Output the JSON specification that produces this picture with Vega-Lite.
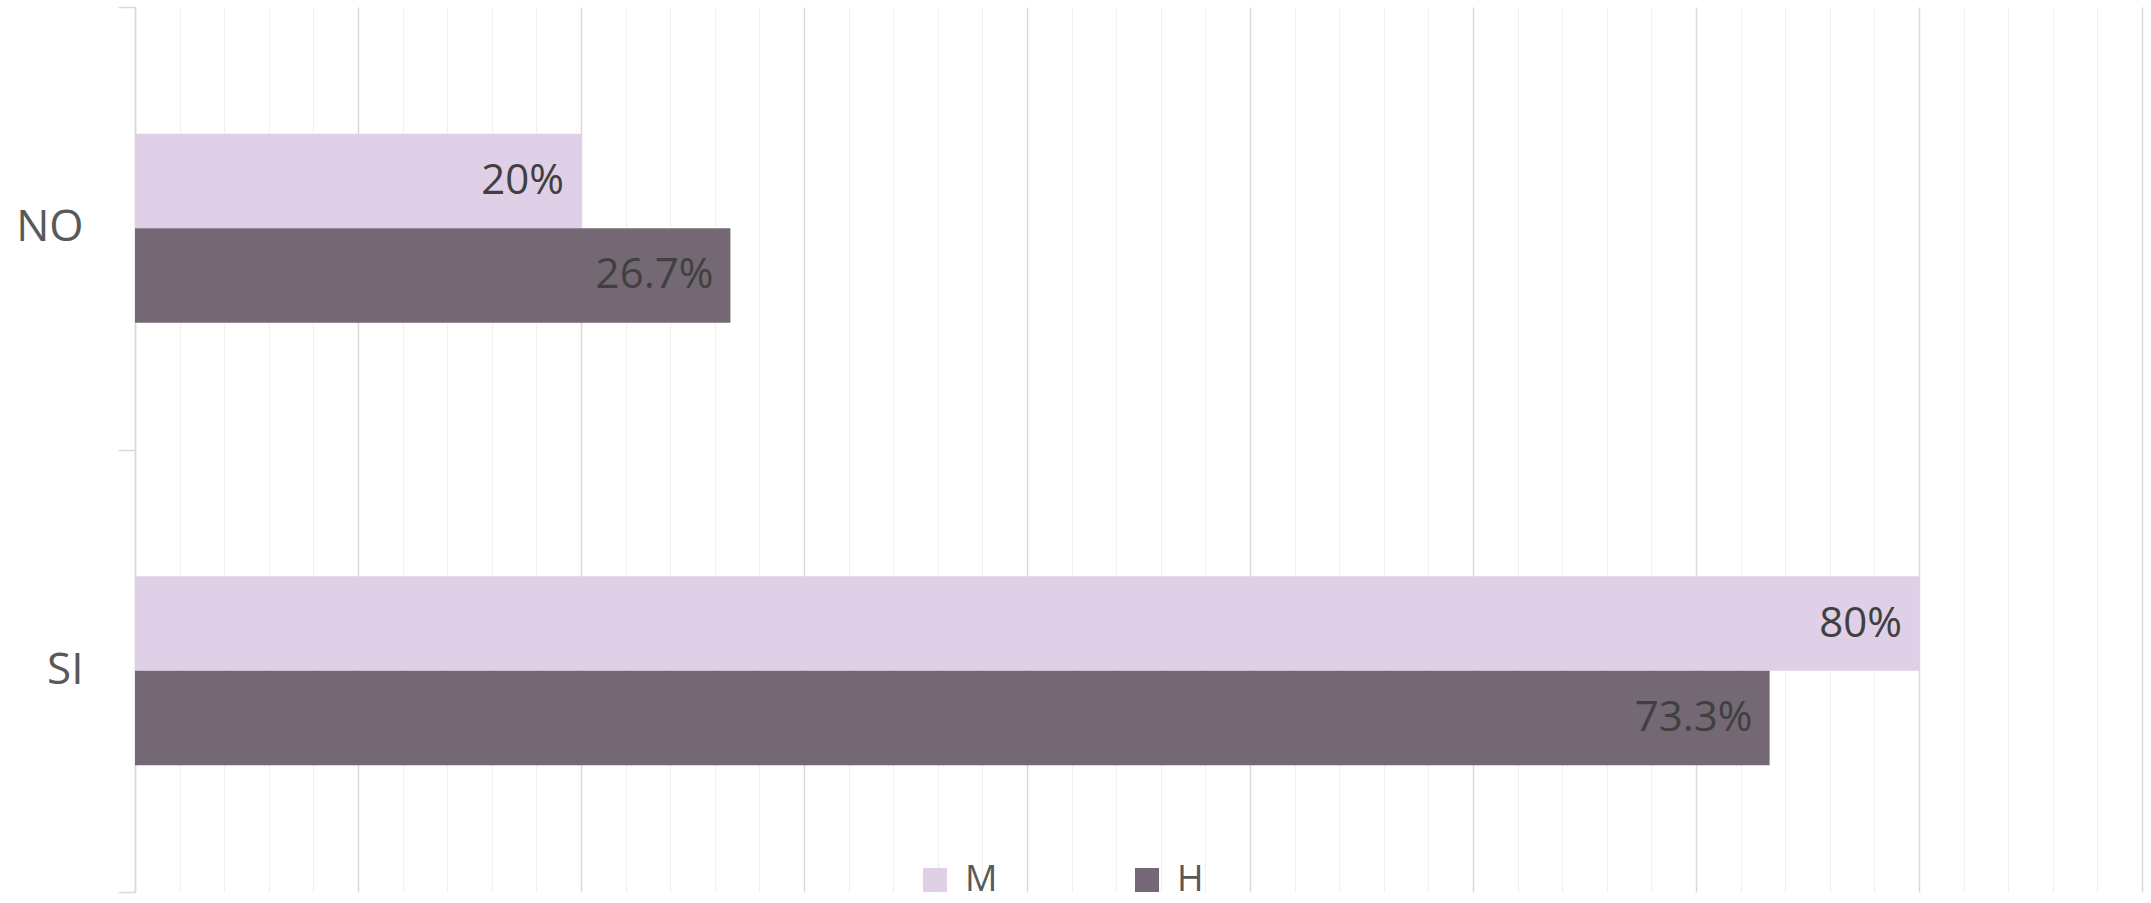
{
  "$schema": "https://vega.github.io/schema/vega-lite/v6.json",
  "width": 2007,
  "height": 885,
  "autosize": {"type": "none"},
  "padding": {"left": 135, "top": 7, "right": 9, "bottom": 11},
  "background": "white",
  "config": {"view": {"stroke": null}, "font": "Open Sans"},
  "data": {
    "values": [
      {"cat": "NO", "sex": "M", "value": 0.2},
      {"cat": "NO", "sex": "H", "value": 0.267},
      {"cat": "SI", "sex": "M", "value": 0.8},
      {"cat": "SI", "sex": "H", "value": 0.733}
    ]
  },
  "encoding": {
    "x": {
      "field": "value",
      "type": "quantitative",
      "scale": {"domain": [0, 0.9], "nice": false, "zero": true},
      "axis": {
        "title": null,
        "labels": false,
        "ticks": false,
        "domain": false,
        "grid": true,
        "values": [0, 0.02, 0.04, 0.06, 0.08, 0.1, 0.12, 0.14, 0.16, 0.18, 0.2, 0.22, 0.24, 0.26, 0.28, 0.3, 0.32, 0.34, 0.36, 0.38, 0.4, 0.42, 0.44, 0.46, 0.48, 0.5, 0.52, 0.54, 0.56, 0.58, 0.6, 0.62, 0.64, 0.66, 0.68, 0.7, 0.72, 0.74, 0.76, 0.78, 0.8, 0.82, 0.84, 0.86, 0.88, 0.9],
        "gridColor": {"condition": {"test": "abs(datum.value*10 - round(datum.value*10)) < 0.001", "value": "#D9D9D9"}, "value": "#F0F0F0"},
        "gridWidth": {"condition": {"test": "abs(datum.value*10 - round(datum.value*10)) < 0.001", "value": 1.5}, "value": 1.2}
      }
    }
  },
  "layer": [
    {
      "mark": {"type": "bar", "opacity": 0},
      "encoding": {
        "y": {
          "field": "cat",
          "type": "nominal",
          "sort": ["NO", "SI"],
          "scale": {"paddingInner": 0, "paddingOuter": 0},
          "axis": {
            "title": null,
            "orient": "left",
            "tickBand": "extent",
            "labels": false,
            "domainColor": "#D9D9D9",
            "domainWidth": 1.5,
            "tickColor": "#D9D9D9",
            "tickWidth": 1.5,
            "tickSize": 17,
            "grid": false
          }
        }
      }
    },
    {
      "encoding": {
        "y": {
          "field": "cat",
          "type": "nominal",
          "sort": ["NO", "SI"],
          "scale": {"paddingInner": 0.573, "paddingOuter": 0.2865},
          "axis": {
            "title": null,
            "orient": "left",
            "ticks": false,
            "domain": false,
            "labelColor": "#595959",
            "labelFontSize": 44,
            "labelFont": "Open Sans",
            "labelPadding": 52,
            "grid": false
          }
        },
        "yOffset": {"field": "sex", "type": "nominal", "sort": ["M", "H"]}
      },
      "layer": [
        {
          "mark": {"type": "bar"},
          "encoding": {
            "color": {
              "field": "sex",
              "type": "nominal",
              "scale": {"domain": ["M", "H"], "range": ["#DFCFE7", "#736873"]},
              "legend": {
                "title": null,
                "orient": "none",
                "direction": "horizontal",
                "legendX": 782,
                "legendY": 855,
                "symbolType": "square",
                "symbolSize": 576,
                "symbolStrokeWidth": 0,
                "labelFontSize": 36,
                "labelFont": "Open Sans",
                "labelColor": "#595959",
                "labelOffset": 12,
                "columnPadding": 131
              }
            }
          }
        },
        {
          "mark": {"type": "text", "align": "right", "baseline": "middle", "dx": -17, "fontSize": 42, "font": "Open Sans", "color": "#404040"},
          "encoding": {
            "text": {"field": "value", "type": "quantitative", "format": ".3~%"}
          }
        }
      ]
    }
  ],
  "resolve": {"scale": {"y": "independent"}, "axis": {"y": "independent"}}
}
